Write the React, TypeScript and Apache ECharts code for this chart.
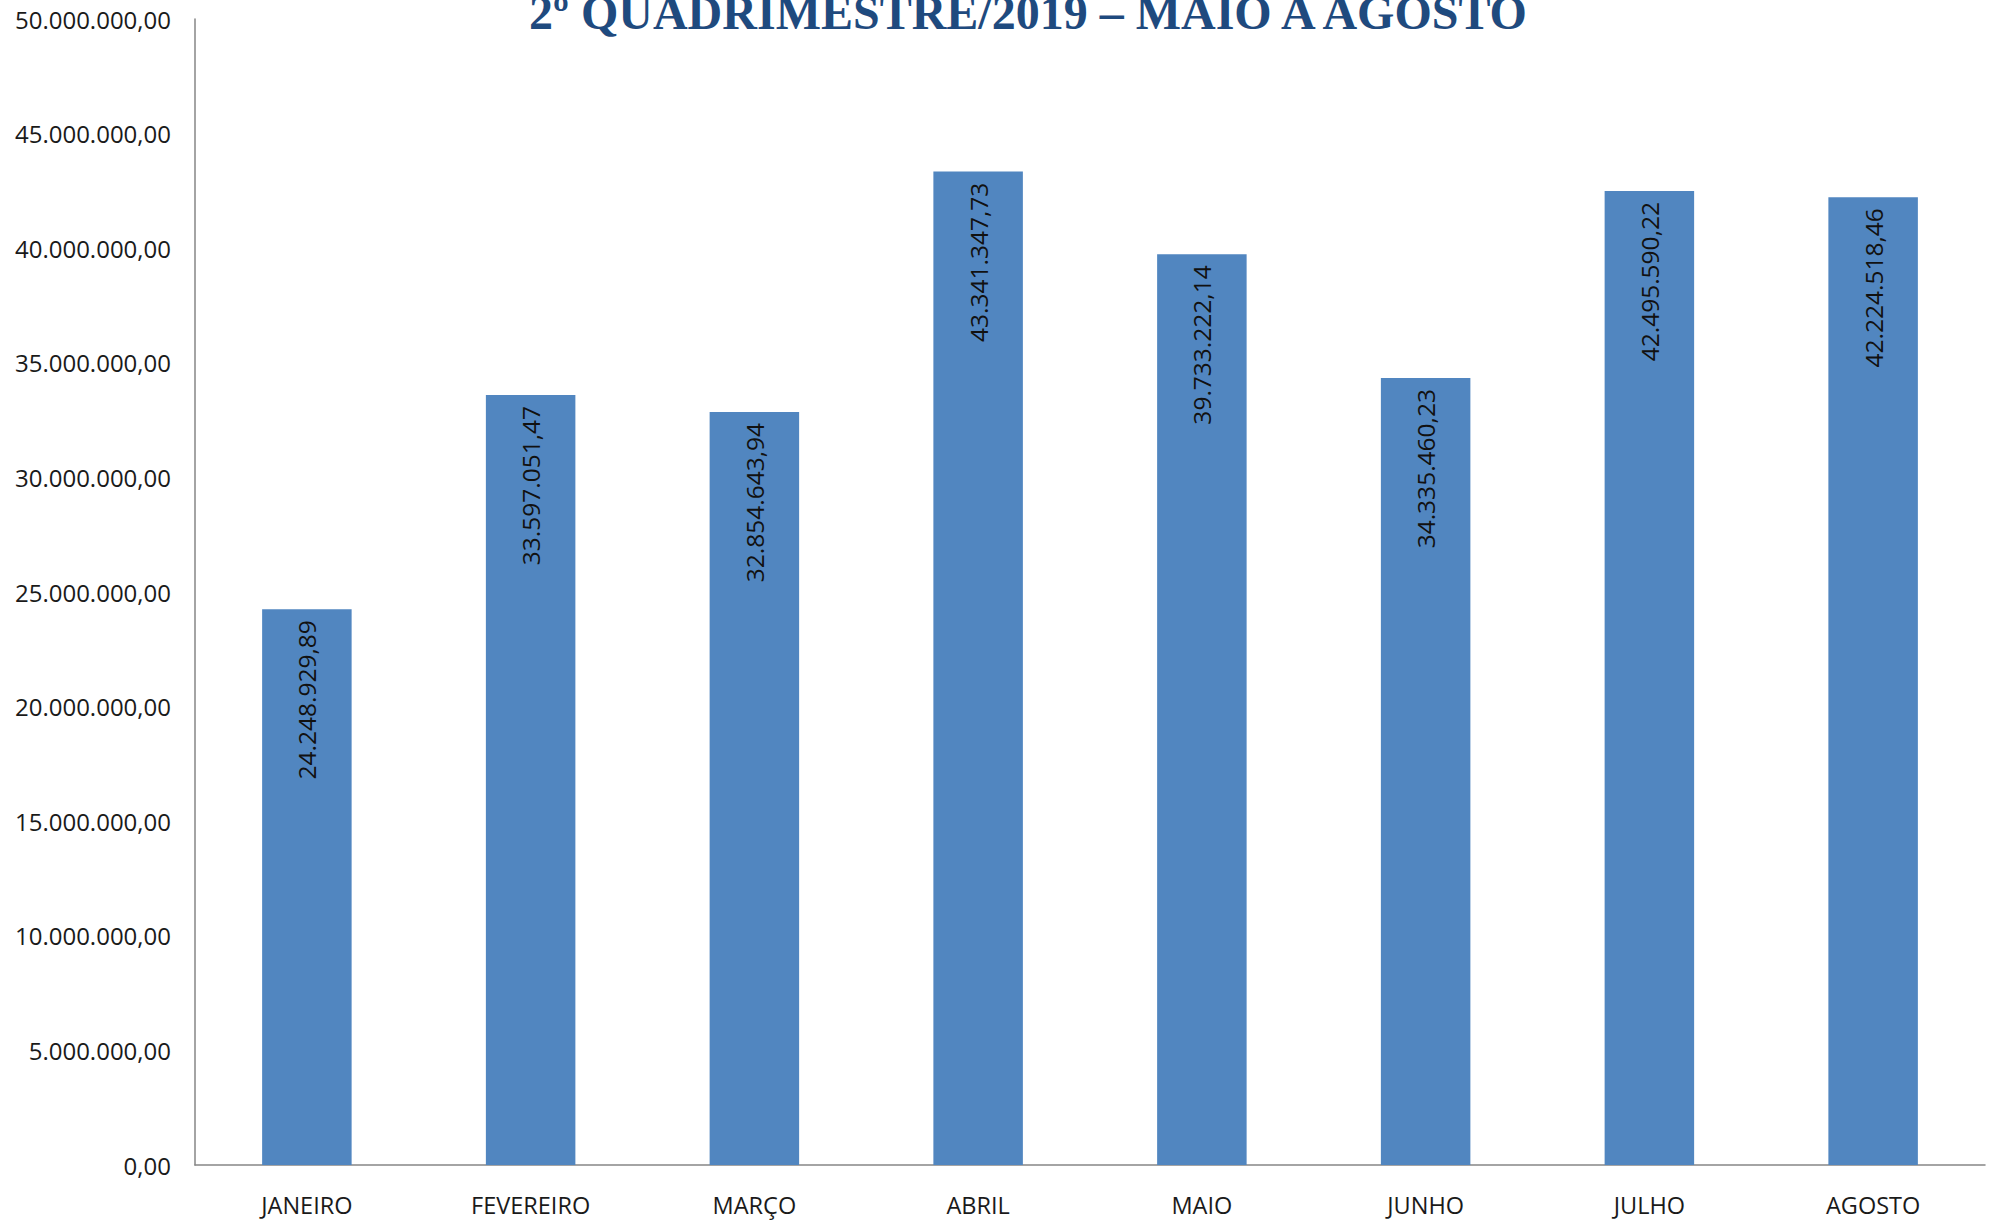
import React, { useEffect, useRef } from "react";
import * as echarts from "echarts";

const titleText = "2º QUADRIMESTRE/2019 – MAIO A AGOSTO";
const categories = ["JANEIRO", "FEVEREIRO", "MARÇO", "ABRIL", "MAIO", "JUNHO", "JULHO", "AGOSTO"];
const values = [24248929.89, 33597051.47, 32854643.94, 43341347.73, 39733222.14, 34335460.23, 42495590.22, 42224518.46];
const yMin = 0;
const yMax = 50000000;
const yInterval = 5000000;

function formatBR(v: number): string {
  const fixed = v.toFixed(2);
  const [intPart, dec] = fixed.split(".");
  const withDots = intPart.replace(/\B(?=(\d{3})+(?!\d))/g, ".");
  return withDots + "," + dec;
}

export default function App() {
  const ref = useRef<HTMLDivElement>(null);
  useEffect(() => {
    document.body.style.margin = "0";
    if (!ref.current) return;
    const chart = echarts.init(ref.current, undefined, { renderer: "svg" });
    chart.setOption({
      animation: false,
      backgroundColor: "#ffffff",
      graphic: [
        {
          type: "text",
          x: 1028,
          y: 12,
          style: {
            text: titleText,
            fill: "#1F4A7E",
            font: "bold 48px 'Liberation Serif', 'Times New Roman', serif",
            align: "center",
            verticalAlign: "middle",
          },
        },
      ],
      grid: { left: 195, right: 9, top: 19, bottom: 56, containLabel: false },
      xAxis: {
        type: "category",
        data: categories,
        axisLine: { show: true, lineStyle: { color: "#868686", width: 1.5 } },
        axisTick: { show: false },
        axisLabel: {
          color: "#1a1a1a",
          fontFamily: "'Open Sans', sans-serif",
          fontSize: 23.5,
          lineHeight: 24,
          margin: 28,
        },
      },
      yAxis: {
        type: "value",
        min: yMin,
        max: yMax,
        interval: yInterval,
        splitLine: { show: false },
        axisLine: { show: true, lineStyle: { color: "#868686", width: 1.5 } },
        axisTick: { show: false },
        axisLabel: {
          color: "#1a1a1a",
          fontFamily: "'Open Sans', sans-serif",
          fontSize: 24,
          margin: 24,
          formatter: (v: number) => formatBR(v),
        },
      },
      series: [
        {
          type: "bar",
          data: values,
          barWidth: "40%",
          itemStyle: { color: "#5186C0" },
          label: {
            show: true,
            position: "insideTop",
            rotate: 90,
            align: "right",
            verticalAlign: "middle",
            distance: 11,
            color: "#111111",
            fontFamily: "'Open Sans', sans-serif",
            fontSize: 24.5,
            formatter: (p: any) => formatBR(p.value),
          },
        },
      ],
    });
    return () => chart.dispose();
  }, []);
  return <div ref={ref} style={{ position: "absolute", left: 0, top: 0, width: 1994, height: 1221 }} />;
}
